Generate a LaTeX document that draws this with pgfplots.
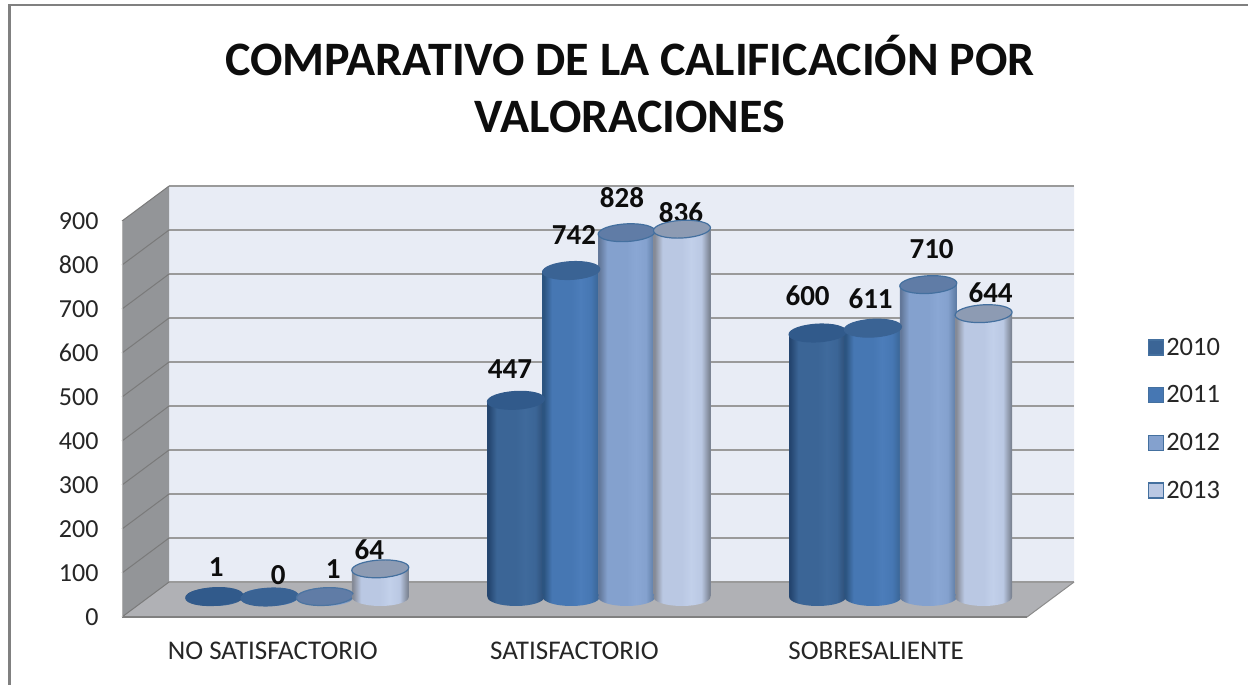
\documentclass[border=0pt]{standalone}
\usepackage{fontspec}
\setmainfont{Carlito}
\usepackage{pgfplots}
\usetikzlibrary{shapes.geometric}
\pgfplotsset{compat=1.18}

% cylinder body shadings, the path box maps to 25bp..75bp
\newcommand{\cylshade}[5]{%
  \pgfdeclarehorizontalshading{#1}{100bp}{%
    color(0bp)=(#2); color(26bp)=(#2); color(33bp)=(#3); color(50bp)=(#3);
    color(58bp)=(#4); color(67bp)=(#3); color(74bp)=(#5); color(100bp)=(#5)}}
\definecolor{a0}{HTML}{24456F}\definecolor{a1}{HTML}{3B6596}\definecolor{a2}{HTML}{3F6A9C}\definecolor{a3}{HTML}{2F5079}
\definecolor{b0}{HTML}{2C5480}\definecolor{b1}{HTML}{4677B3}\definecolor{b2}{HTML}{4C7DBA}\definecolor{b3}{HTML}{3A6595}
\definecolor{c0}{HTML}{63789A}\definecolor{c1}{HTML}{84A1CE}\definecolor{c2}{HTML}{8AA7D4}\definecolor{c3}{HTML}{5F7DA6}
\definecolor{d0}{HTML}{858A96}\definecolor{d1}{HTML}{BAC8E3}\definecolor{d2}{HTML}{C2D0EA}\definecolor{d3}{HTML}{7D8594}
\cylshade{cylA}{a0}{a1}{a2}{a3}
\cylshade{cylB}{b0}{b1}{b2}{b3}
\cylshade{cylC}{c0}{c1}{c2}{c3}
\cylshade{cylD}{d0}{d1}{d2}{d3}

\definecolor{capA}{HTML}{315A8B}
\definecolor{capB}{HTML}{3A6394}
\definecolor{capC}{HTML}{607CA6}
\definecolor{capD}{HTML}{8D9BB3}
\definecolor{wall}{HTML}{E8ECF5}
\definecolor{floorc}{HTML}{B0B1B5}
\definecolor{sidec}{HTML}{939598}
\definecolor{gridc}{HTML}{9A9A9A}
\definecolor{edge}{HTML}{44709F}

% round cap of a cylinder
\pgfdeclareplotmark{cap}{\pgfpathellipse{\pgfpointorigin}{\pgfqpoint{28.5pt}{1.6pt}}{\pgfqpoint{-0.6pt}{8.8pt}}\pgfusepathqfillstroke}

\pgfplotsset{
  leg/.style={legend image code/.code={\draw[draw=edge,line width=1.4pt,fill=#1] (2pt,-7.5pt) rectangle (17pt,7.5pt);}},
}

% one cylinder: letter, shift, cap edge colour, category, value
\newcommand{\cyl}[5]{%
  \addplot[forget plot,only marks,mark=none,point meta=y,nodes near coords={},
    every node near coord/.style={ellipse,anchor=center,inner sep=0pt,minimum width=57pt,minimum height=18pt,
      shade,shading=cyl#1,xshift=#2}] coordinates {(#4,0)};
  \addplot[forget plot,ybar,bar width=57pt,bar shift=#2,draw=none,shade,shading=cyl#1] coordinates {(#4,#5)};
  \addplot[forget plot,only marks,mark=cap,mark options={xshift=#2,fill=cap#1,draw=#3,line width=1.2pt}] coordinates {(#4,#5)};
}

\begin{document}
\begin{tikzpicture}
\useasboundingbox (0,0) rectangle (1248pt,685pt);
\fill[white] (0,0) rectangle (1248pt,685pt);
\draw[line width=2.5pt,color=black!50] (9.5pt,0pt) -- (9.5pt,680pt) -- (1248pt,680pt);
\node[font=\fontsize{48}{57}\selectfont\bfseries,align=center,text=black!95] at (630pt,601pt)
  {COMPARATIVO DE LA CALIFICACIÓN POR\\VALORACIONES};

% walls, floor and value axis
\begin{axis}[
    at={(122pt,68pt)}, anchor=south west,
    scale only axis, width=905pt, height=396pt,
    xmin=-0.5, xmax=2.5, ymin=0, ymax=900,
    clip=false,
    axis line style={draw=none},
    major tick length=0pt,
    xtick={0,1,2},
    xticklabels={NO SATISFACTORIO,SATISFACTORIO,SOBRESALIENTE},
    ytick={0,100,...,900},
    /pgf/number format/assume math mode=true,
    yticklabel style={font=\fontsize{26}{28}\selectfont,text=black!85,xshift=-20pt},
    xticklabel style={font=\fontsize{27}{30}\selectfont,text=black!85,yshift=-21pt},
]
\addplot[fill=wall,draw=none] coordinates {(-0.344,79.5) (2.656,79.5) (2.656,979.5) (-0.344,979.5)} \closedcycle;
\addplot[fill=floorc,draw=none] coordinates {(-0.5,0) (-0.344,79.5) (2.656,79.5) (2.5,0)} \closedcycle;
\addplot[fill=sidec,draw=none] coordinates {(-0.5,0) (-0.344,79.5) (-0.344,979.5) (-0.5,900)} \closedcycle;
\pgfplotsinvokeforeach{0,100,...,900}{
  \draw[gridc,line width=2pt] (axis cs:-0.344,#1+79.5) -- (axis cs:2.656,#1+79.5);
  \draw[black!52,line width=1pt] (axis cs:-0.5,#1) -- (axis cs:-0.344,#1+79.5);
}
\draw[black!50,line width=2pt] (axis cs:-0.5,0) -- (axis cs:2.5,0);
\draw[black!30,line width=1pt] (axis cs:-0.5,0) -- (axis cs:-0.5,900);
\draw[black!45,line width=1pt] (axis cs:2.5,0) -- (axis cs:2.656,79.5);
\end{axis}

% cylinders, on the floor plane set back from the value axis
\begin{axis}[
    at={(122pt,68pt)}, anchor=south west,
    scale only axis, width=905pt, height=396pt,
    xmin=-0.581, xmax=2.419, ymin=-45.45, ymax=854.55,
    clip=false,
    hide axis,
    legend style={at={(1.13,0.715)},anchor=north west,draw=none,fill=none,
      font=\fontsize{26.5}{28}\selectfont,text=black!85,row sep=25pt,
      legend cell align=left,/tikz/every even column/.append style={column sep=7pt}},
]
\cyl{A}{-83pt}{capA}{0}{1}
\cyl{B}{-27.7pt}{capB}{0}{0}
\cyl{C}{27.7pt}{edge!70!capC}{0}{1}
\cyl{D}{83pt}{edge}{0}{64}
\cyl{A}{-83pt}{capA}{1}{447}
\cyl{B}{-27.7pt}{capB}{1}{742}
\cyl{C}{27.7pt}{edge}{1}{828}
\cyl{D}{83pt}{edge}{1}{836}
\cyl{A}{-83pt}{capA}{2}{600}
\cyl{B}{-27.7pt}{capB}{2}{611}
\cyl{C}{27.7pt}{edge}{2}{710}
\cyl{D}{83pt}{edge}{2}{644}

\addlegendimage{leg=a1}\addlegendentry{2010}
\addlegendimage{leg=b1}\addlegendentry{2011}
\addlegendimage{leg=c1}\addlegendentry{2012}
\addlegendimage{leg=d1}\addlegendentry{2013}

\begin{scope}[every node/.style={font=\fontsize{29}{30}\selectfont\bfseries,text=black!95}]
\node at (axis cs:0,1)   [xshift=-81pt,yshift=29pt] {1};
\node at (axis cs:0,0)   [xshift=-19pt,yshift=22pt] {0};
\node at (axis cs:0,1)   [xshift=36pt,yshift=27pt] {1};
\node at (axis cs:0,64)  [xshift=72pt,yshift=19pt] {64};
\node at (axis cs:1,447) [xshift=-89pt,yshift=31pt] {447};
\node at (axis cs:1,742) [xshift=-25pt,yshift=36pt] {742};
\node at (axis cs:1,828) [xshift=23pt,yshift=35pt] {828};
\node at (axis cs:1,836) [xshift=82pt,yshift=17pt] {836};
\node at (axis cs:2,600) [xshift=-93pt,yshift=37pt] {600};
\node at (axis cs:2,611) [xshift=-30pt,yshift=29pt] {611};
\node at (axis cs:2,710) [xshift=31pt,yshift=36pt] {710};
\node at (axis cs:2,644) [xshift=90pt,yshift=21pt] {644};
\end{scope}
\end{axis}
\end{tikzpicture}
\end{document}
